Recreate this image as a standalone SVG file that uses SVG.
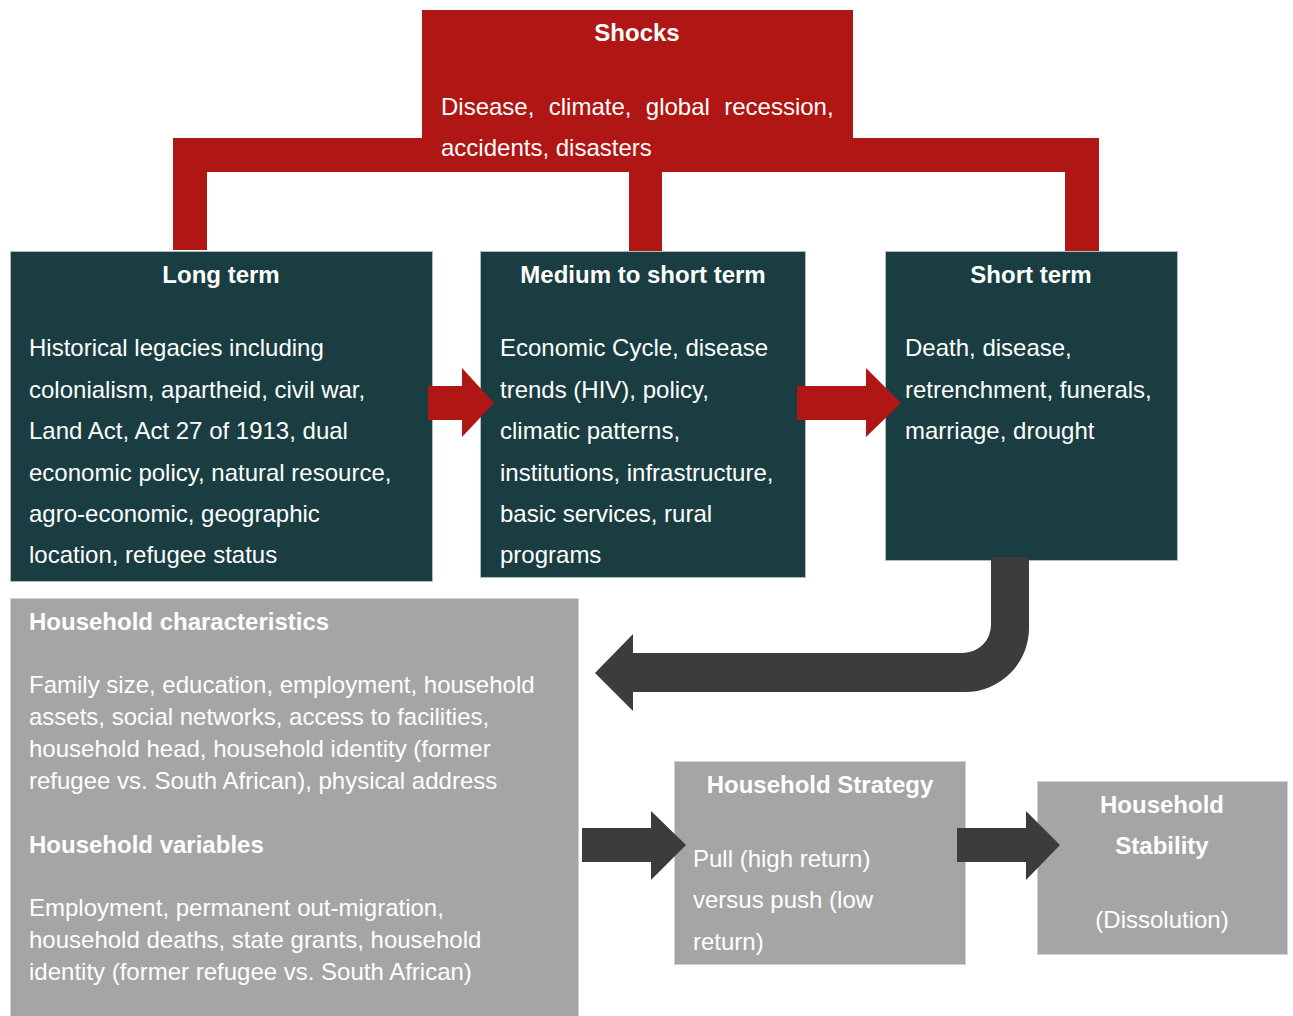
<svg xmlns="http://www.w3.org/2000/svg" width="1293" height="1016" viewBox="0 0 1293 1016">
  <style>
    text { font-family: "Liberation Sans", Arial, sans-serif; font-size: 24px; fill: #ffffff; }
    .b { font-weight: bold; }
    .c { text-anchor: middle; }
    .red { fill: #af1614; }
    .teal { fill: #193d40; stroke: #aebcbc; stroke-width: 1; }
    .grey { fill: #a5a5a5; stroke: #d2d2d2; stroke-width: 1; }
    .dark { fill: #3c3c3c; }
  </style>

  <g id="shocks">
    <rect class="red" x="422" y="10" width="431" height="162"/>
    <text class="b c" x="637" y="41">Shocks</text>
    <text x="441" y="115" word-spacing="7.7">Disease, climate, global recession,</text>
    <text x="441" y="156">accidents, disasters</text>
  </g>

  <g id="long-term">
    <rect class="teal" x="10.5" y="251.5" width="422" height="330"/>
    <text class="b c" x="221" y="283">Long term</text>
    <text x="29" y="356">Historical legacies including</text>
    <text x="29" y="398">colonialism, apartheid, civil war,</text>
    <text x="29" y="439">Land Act, Act 27 of 1913, dual</text>
    <text x="29" y="481">economic policy, natural resource,</text>
    <text x="29" y="522">agro-economic, geographic</text>
    <text x="29" y="563">location, refugee status</text>
  </g>

  <g id="medium-term">
    <rect class="teal" x="480.5" y="251.5" width="325" height="326"/>
    <text class="b c" x="643" y="283">Medium to short term</text>
    <text x="500" y="356">Economic Cycle, disease</text>
    <text x="500" y="398">trends (HIV), policy,</text>
    <text x="500" y="439">climatic patterns,</text>
    <text x="500" y="481">institutions, infrastructure,</text>
    <text x="500" y="522">basic services, rural</text>
    <text x="500" y="563">programs</text>
  </g>

  <g id="short-term">
    <rect class="teal" x="885.5" y="251.5" width="292" height="309"/>
    <text class="b c" x="1031" y="283">Short term</text>
    <text x="905" y="356">Death, disease,</text>
    <text x="905" y="398">retrenchment, funerals,</text>
    <text x="905" y="439">marriage, drought</text>
  </g>

  <g id="household-characteristics">
    <rect class="grey" x="10.5" y="598.5" width="568" height="420"/>
    <text class="b" x="29" y="630">Household characteristics</text>
    <text x="29" y="693">Family size, education, employment, household</text>
    <text x="29" y="725">assets, social networks, access to facilities,</text>
    <text x="29" y="757">household head, household identity (former</text>
    <text x="29" y="789">refugee vs. South African), physical address</text>
    <text class="b" x="29" y="853">Household variables</text>
    <text x="29" y="916">Employment, permanent out-migration,</text>
    <text x="29" y="948">household deaths, state grants, household</text>
    <text x="29" y="980">identity (former refugee vs. South African)</text>
  </g>

  <g id="household-strategy">
    <rect class="grey" x="674.5" y="761.5" width="291" height="203"/>
    <text class="b c" x="820" y="793">Household Strategy</text>
    <text x="693" y="867">Pull (high return)</text>
    <text x="693" y="908">versus push (low</text>
    <text x="693" y="950">return)</text>
  </g>

  <g id="household-stability">
    <rect class="grey" x="1037.5" y="781.5" width="250" height="173"/>
    <text class="b c" x="1162" y="813">Household</text>
    <text class="b c" x="1162" y="854">Stability</text>
    <text class="c" x="1162" y="928">(Dissolution)</text>
  </g>

  <!-- connectors, drawn over the boxes so the arrow tips overlap them -->
  <g id="connectors">
    <!-- bracket from Shocks down to the three time-scale boxes -->
    <path class="red" d="M173 138 H422 V172 H207 V250 H173 Z"/>
    <path class="red" d="M851 138 H1099 V251 H1065 V172 H851 Z"/>
    <path class="red" d="M629 172 H662 V251 H629 Z"/>
    <!-- Long term -> Medium to short term -->
    <path class="red" d="M428 386 H462 V368 L494 403 L462 437 V420 H428 Z"/>
    <!-- Medium to short term -> Short term -->
    <path class="red" d="M797 386 H866 V368 L901 403 L866 437 V420 H797 Z"/>
    <!-- Short term back round to Household characteristics -->
    <path class="dark" d="M991 557 H1029 V628 A64 64 0 0 1 965 692 H633 V711 L595 673 L633 634 V653 H963 A28 28 0 0 0 991 625 Z"/>
    <!-- Household characteristics -> Household Strategy -->
    <path class="dark" d="M582 828 H651 V811 L686 845 L651 880 V862 H582 Z"/>
    <!-- Household Strategy -> Household Stability -->
    <path class="dark" d="M957 828 H1026 V811 L1060 845 L1026 880 V862 H957 Z"/>
  </g>
</svg>
